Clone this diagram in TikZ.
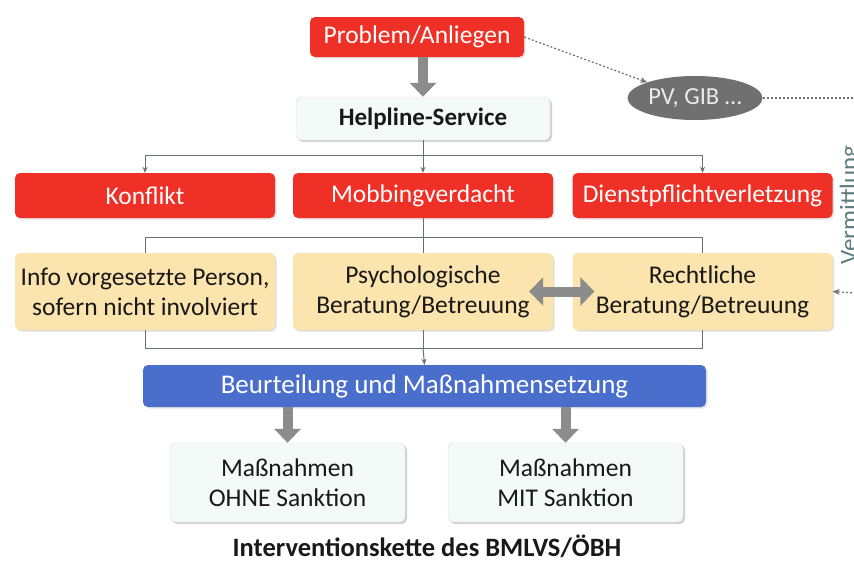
\documentclass[tikz,border=0pt]{standalone}
\usepackage{fontspec}
\setmainfont{Carlito}
\usetikzlibrary{arrows.meta,shadows,shapes.geometric}
\definecolor{myred}{RGB}{238,48,38}
\definecolor{myyellow}{RGB}{252,228,174}
\definecolor{myblue}{RGB}{74,110,204}
\definecolor{mymint}{RGB}{243,250,247}
\definecolor{mygray}{RGB}{112,112,112}
\definecolor{arrowgray}{RGB}{140,140,140}
\definecolor{linegray}{RGB}{105,110,115}
\definecolor{vermcol}{RGB}{95,125,125}
\definecolor{darktext}{RGB}{25,25,25}
\tikzset{
  box/.style={rounded corners=5pt, inner sep=0pt, align=center,
    font=\fontsize{25.5}{30}\selectfont},
  redbox/.style={box, fill=myred, text=white, minimum width=260pt, minimum height=45pt,
    drop shadow={opacity=0.2, shadow xshift=1.5pt, shadow yshift=-1.5pt}},
  yelbox/.style={box, fill=myyellow, text=darktext, minimum width=260pt, minimum height=77pt,
    drop shadow={opacity=0.25, shadow xshift=1.5pt, shadow yshift=-1.5pt}},
  mintbox/.style={box, fill=mymint, draw=black!12, text=darktext,
    drop shadow={opacity=0.35, shadow xshift=2pt, shadow yshift=-2pt}},
  conn/.style={draw=linegray, line width=1pt},
  connarrow/.style={conn, -{Stealth[length=6pt,width=5pt]}},
  blockarrow/.style={draw=arrowgray, line width=10pt,
    -{Triangle[length=14pt,width=26pt]}},
  dblarrow/.style={draw=arrowgray, line width=10pt,
    {Triangle[length=14pt,width=28pt]}-{Triangle[length=14pt,width=28pt]}},
  dotconn/.style={draw=mygray, line width=1.2pt, dash pattern=on 2pt off 2pt},
}
\begin{document}
\begin{tikzpicture}[x=1pt,y=-1pt]
\useasboundingbox (0,0) rectangle (854,562);
\fill[white] (0,0) rectangle (854,562);

% top
\node[redbox, minimum width=214pt, minimum height=40pt] (prob) at (417,37) {Problem/Anliegen};
\node[mintbox, minimum width=254pt, minimum height=43pt, font=\fontsize{25}{30}\selectfont\bfseries] (help) at (423,118.5) {Helpline-Service};
\node[ellipse, fill=mygray, text=white!92!black, minimum width=135pt, minimum height=44pt, inner sep=0pt,
  font=\fontsize{24.5}{30}\selectfont] (pv) at (695,98) {PV, GIB \dots};

% red row
\node[redbox] (konf) at (145,195.5) {Konflikt};
\node[redbox] (mob) at (423,195.5) {Mobbingverdacht};
\node[redbox] (dienst) at (702.5,195.5) {Dienstpflichtverletzung};

% yellow row
\node[yelbox] (info) at (145,291.5) {Info vorgesetzte Person,\\sofern nicht involviert};
\node[yelbox] (psy) at (423,291.5) {Psychologische\\Beratung/Betreuung};
\node[yelbox] (recht) at (702.5,291.5) {Rechtliche\\Beratung/Betreuung};

% blue
\node[box, fill=myblue, text=white, minimum width=563pt, minimum height=42pt,
  font=\fontsize{27}{30}\selectfont,
  drop shadow={opacity=0.2, shadow xshift=1.5pt, shadow yshift=-1.5pt}] (beur) at (424.5,386) {Beurteilung und Maßnahmensetzung};

% bottom
\node[mintbox, minimum width=235pt, minimum height=79pt] (ohne) at (287.5,482.5) {Maßnahmen\\OHNE Sanktion};
\node[mintbox, minimum width=235pt, minimum height=79pt] (mit) at (565.5,482.5) {Maßnahmen\\MIT Sanktion};

% title
\node[font=\fontsize{26.5}{30}\selectfont\bfseries, text=darktext, inner sep=0pt] (title) at (427,546) {Interventionskette des BMLVS/ÖBH};

% Vermittlung
\node[rotate=90, anchor=base, text=vermcol, font=\fontsize{25}{30}\selectfont, inner sep=0pt] (verm) at (857,205) {Vermittlung};

% coordinates
\coordinate (h1) at (423,155);
\coordinate (m1) at (423,237);
\coordinate (b1) at (423,348);
\coordinate (edgeA) at (856,98);
\coordinate (edgeB) at (856,293);

% block arrows
\draw[blockarrow] (prob.south -| help.north) -- (help.north);
\draw[blockarrow] (beur.south -| ohne.north) -- (ohne.north);
\draw[blockarrow] (beur.south -| mit.north) -- (mit.north);

% connectors helpline -> red
\draw[conn] (help.south) -- (h1);
\draw[connarrow] (h1) -| (konf.north);
\draw[connarrow] (h1) -| (dienst.north);
\draw[connarrow] (h1) -- (mob.north);

% red -> yellow
\draw[conn] (mob.south) -- (m1);
\draw[conn] (m1) -| (info.north);
\draw[conn] (m1) -| (recht.north);
\draw[conn] (m1) -- (psy.north);

% yellow -> blue
\draw[conn] (info.south) |- (b1);
\draw[conn] (recht.south) |- (b1);
\draw[conn] (psy.south) -- (b1);
\draw[connarrow] (b1) -- (beur.north);

% double arrow
\draw[dblarrow] ([xshift=-24pt]psy.east) -- ([xshift=22pt]recht.west);

% dotted
\draw[dotconn, -{Stealth[length=7pt,width=6pt]}] (prob.east) -- (pv.north west);
\draw[dotconn] (pv.east) -- (edgeA);
\draw[dotconn, -{Stealth[length=7pt,width=6pt]}] (edgeB) -- (recht.east);
\end{tikzpicture}
\end{document}
